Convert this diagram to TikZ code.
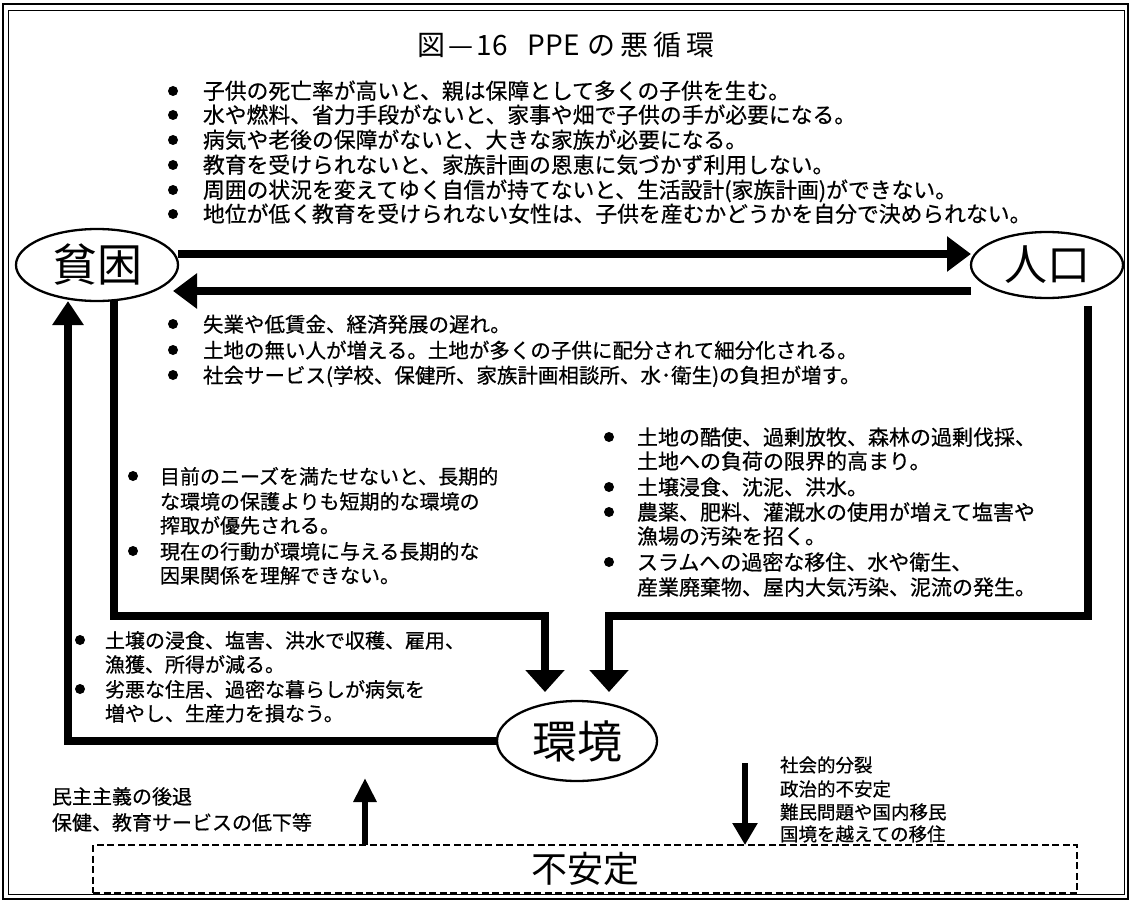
\documentclass[tikz,border=0pt]{standalone}
\usepackage{fontspec}
\setmainfont{Noto Sans CJK JP}
\newfontfamily\heavyjp[FakeBold=0.6]{Noto Sans CJK JP}
\usetikzlibrary{arrows.meta,shapes.geometric,calc}
\begin{document}
\begin{tikzpicture}[x=1pt,y=-1pt,
  every node/.style={inner sep=0pt,outer sep=0pt},
  ta/.style={anchor=base west,font=\heavyjp\fontsize{21.8}{25}\selectfont},
  tb/.style={anchor=base west,font=\heavyjp\fontsize{20.5}{25}\selectfont},
  tr/.style={anchor=base west,font=\heavyjp\fontsize{21}{25}\selectfont},
  tc/.style={anchor=base west,font=\heavyjp\fontsize{20}{25}\selectfont},
  td/.style={anchor=base west,font=\heavyjp\fontsize{18.5}{22}\selectfont},
  oval/.style={ellipse,draw,line width=2.3pt},
  big/.style={line width=8pt,-{Triangle[length=24pt,width=34pt]}},
  bigd/.style={line width=8.5pt,-{Triangle[length=22pt,width=38pt]}},
  bigu/.style={line width=8pt,-{Triangle[length=24pt,width=30pt]}},
  midu/.style={line width=6.5pt,-{Triangle[length=24pt,width=22pt]}},
  midd/.style={line width=5.5pt,-{Triangle[length=22pt,width=24pt]}},
  bul/.style={fill=black}
]
\useasboundingbox (0,0) rectangle (1131,904);
% frame
\draw[line width=1.5pt] (3,4) rectangle (1128,899);
\draw[line width=0.8pt] (8,10) rectangle (1124,894);

% title
\node[font=\fontsize{28}{28}\selectfont] (title) at (566,45) {図\hspace{3pt}—\hspace{3pt}16\hspace{20pt}PPE\hspace{8pt}の\hspace{5pt}悪\hspace{5pt}循\hspace{5pt}環};

% main nodes
\node[oval,minimum width=162pt,minimum height=72pt,font=\fontsize{45}{45}\selectfont] (pov) at (97,265) {貧困};
\node[oval,minimum width=152pt,minimum height=66pt,font=\fontsize{43}{43}\selectfont] (pop) at (1047,265) {人口};
\node[oval,minimum width=160pt,minimum height=80pt,font=\fontsize{45}{45}\selectfont] (env) at (577,741) {環境};
\node[draw,dashed,dash pattern=on 7pt off 3.5pt,line width=1.3pt,minimum width=984pt,minimum height=48pt,font=\fontsize{36}{36}\selectfont] (ins) at (585,869) {不安定};

% top text
\foreach \y in {91,115,140,165,190,214} \fill[bul] (173,\y) circle (5pt);
\node[ta] (a1) at (203,99) {子供の死亡率が高いと、親は保障として多くの子供を生む。};
\node[ta] (a2) at (203,123) {水や燃料、省力手段がないと、家事や畑で子供の手が必要になる。};
\node[ta] (a3) at (203,148) {病気や老後の保障がないと、大きな家族が必要になる。};
\node[ta] (a4) at (203,173) {教育を受けられないと、家族計画の恩恵に気づかず利用しない。};
\node[ta] (a5) at (203,198) {周囲の状況を変えてゆく自信が持てないと、生活設計(家族計画)ができない。};
\node[ta] (a6) at (203,222) {地位が低く教育を受けられない女性は、子供を産むかどうかを自分で決められない。};

% middle text
\foreach \y in {324,350,375} \fill[bul] (173,\y) circle (5pt);
\node[tb] (b1) at (203,332) {失業や低賃金、経済発展の遅れ。};
\node[tb] (b2) at (203,358) {土地の無い人が増える。土地が多くの子供に配分されて細分化される。};
\node[tb] (b3) at (203,383) {社会サービス(学校、保健所、家族計画相談所、水･衛生)の負担が増す。};

% right text
\foreach \y in {437,487,512,562} \fill[bul] (609,\y) circle (5pt);
\node[tr] (c1) at (637,445) {土地の酷使、過剰放牧、森林の過剰伐採、};
\node[tr] (c2) at (637,469) {土地への負荷の限界的高まり。};
\node[tr] (c3) at (637,495) {土壌浸食、沈泥、洪水。};
\node[tr] (c4) at (637,520) {農薬、肥料、灌漑水の使用が増えて塩害や};
\node[tr] (c5) at (637,544) {漁場の汚染を招く。};
\node[tr] (c6) at (637,570) {スラムへの過密な移住、水や衛生、};
\node[tr] (c7) at (637,595) {産業廃棄物、屋内大気汚染、泥流の発生。};

% left middle text
\foreach \y in {476,551} \fill[bul] (133,\y) circle (5pt);
\node[tc] (d1) at (160,484) {目前のニーズを満たせないと、長期的};
\node[tc] (d2) at (160,509) {な環境の保護よりも短期的な環境の};
\node[tc] (d3) at (160,533) {搾取が優先される。};
\node[tc] (d4) at (160,559) {現在の行動が環境に与える長期的な};
\node[tc] (d5) at (160,583) {因果関係を理解できない。};

% lower left text
\foreach \y in {640,689} \fill[bul] (80,\y) circle (5pt);
\node[tc] (e1) at (105,648) {土壌の浸食、塩害、洪水で収穫、雇用、};
\node[tc] (e2) at (105,672) {漁獲、所得が減る。};
\node[tc] (e3) at (105,697) {劣悪な住居、過密な暮らしが病気を};
\node[tc] (e4) at (105,721) {増やし、生産力を損なう。};

% bottom texts
\node[tc] (f1) at (52,804) {民主主義の後退};
\node[tc] (f2) at (52,830) {保健、教育サービスの低下等};
\node[td] (g1) at (780,772) {社会的分裂};
\node[td] (g2) at (780,796) {政治的不安定};
\node[td] (g3) at (780,819) {難民問題や国内移民};
\node[td] (g4) at (780,841) {国境を越えての移住};

% connectors
\draw[big] ([yshift=11pt]pov.east) -- ([yshift=11pt]pop.west);
\draw[big] ([yshift=-26pt]pop.west) -- ([xshift=-5pt,yshift=-26pt]pov.east);
\draw[bigu] (env.west) -| ([xshift=-29pt]pov.south);
\coordinate (jl) at (545,616);
\coordinate (tl) at (545,692);
\draw[bigd] ([xshift=17pt]pov.south) |- (jl) -- (tl);
\coordinate (jr) at (609,616);
\coordinate (tr) at (609,692);
\draw[bigd] ([xshift=41pt,yshift=-8pt]pop.south) |- (jr) -- (tr);
\coordinate (upt) at (365,778);
\draw[midu] (upt |- ins.north) -- (upt);
\coordinate (dnt) at (745,763);
\draw[midd] (dnt) -- (dnt |- ins.north);
\end{tikzpicture}
\end{document}
